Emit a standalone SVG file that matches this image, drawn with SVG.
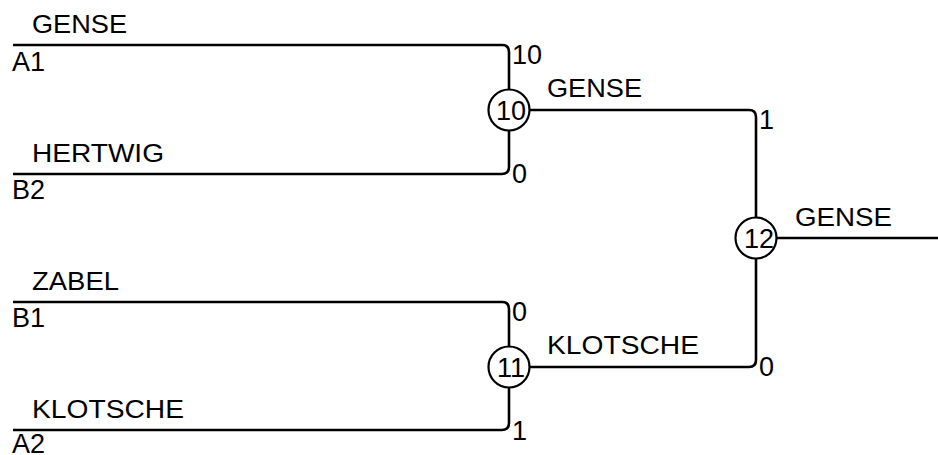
<svg xmlns="http://www.w3.org/2000/svg" width="938" height="455" viewBox="0 0 938 455">
<style>
.ln{fill:none;stroke:#000;stroke-width:2.6}
.nd{fill:#fff;stroke:#000;stroke-width:2.2}
text{font-family:"Liberation Sans",Arial,sans-serif;font-size:27px;fill:#000}
.nm{font-size:25.5px}
.c{text-anchor:middle}
</style>
<rect width="938" height="455" fill="#fff"/>
<g id="connectors">
<path class="ln" d="M13,45 H502 Q509,45 509,52 V90"/>
<path class="ln" d="M13,174 H502 Q509,174 509,167 V130"/>
<path class="ln" d="M13,302 H502 Q509,302 509,309 V347"/>
<path class="ln" d="M13,430 H502 Q509,430 509,423 V387"/>
<path class="ln" d="M529,110 H749 Q756,110 756,117 V218"/>
<path class="ln" d="M529,367 H749 Q756,367 756,360 V258"/>
<path class="ln" d="M776,238 H938"/>
</g>
<g id="labels">
<text class="nm" x="32" y="33" textLength="95" lengthAdjust="spacingAndGlyphs">GENSE</text>
<text x="12" y="71">A1</text>
<text class="nm" x="32" y="162" textLength="132" lengthAdjust="spacingAndGlyphs">HERTWIG</text>
<text x="12" y="199">B2</text>
<text class="nm" x="32" y="290" textLength="87" lengthAdjust="spacingAndGlyphs">ZABEL</text>
<text x="12" y="327">B1</text>
<text class="nm" x="32" y="418" textLength="152" lengthAdjust="spacingAndGlyphs">KLOTSCHE</text>
<text x="12" y="453">A2</text>
<text x="512" y="64">10</text>
<text x="512" y="183">0</text>
<text x="512" y="321">0</text>
<text x="512" y="440">1</text>
<text class="nm" x="547" y="97" textLength="95" lengthAdjust="spacingAndGlyphs">GENSE</text>
<text class="nm" x="547" y="354" textLength="152" lengthAdjust="spacingAndGlyphs">KLOTSCHE</text>
<text x="759" y="129">1</text>
<text x="759" y="376">0</text>
<text class="nm" x="795" y="226" textLength="97" lengthAdjust="spacingAndGlyphs">GENSE</text>
</g>
<g id="node10"><circle class="nd" cx="509" cy="110" r="20.5"/><text class="c" x="511" y="120">10</text></g>
<g id="node11"><circle class="nd" cx="509" cy="367" r="20.5"/><text class="c" x="511" y="377">11</text></g>
<g id="node12"><circle class="nd" cx="756" cy="238" r="20.5"/><text class="c" x="759" y="248">12</text></g>
</svg>
